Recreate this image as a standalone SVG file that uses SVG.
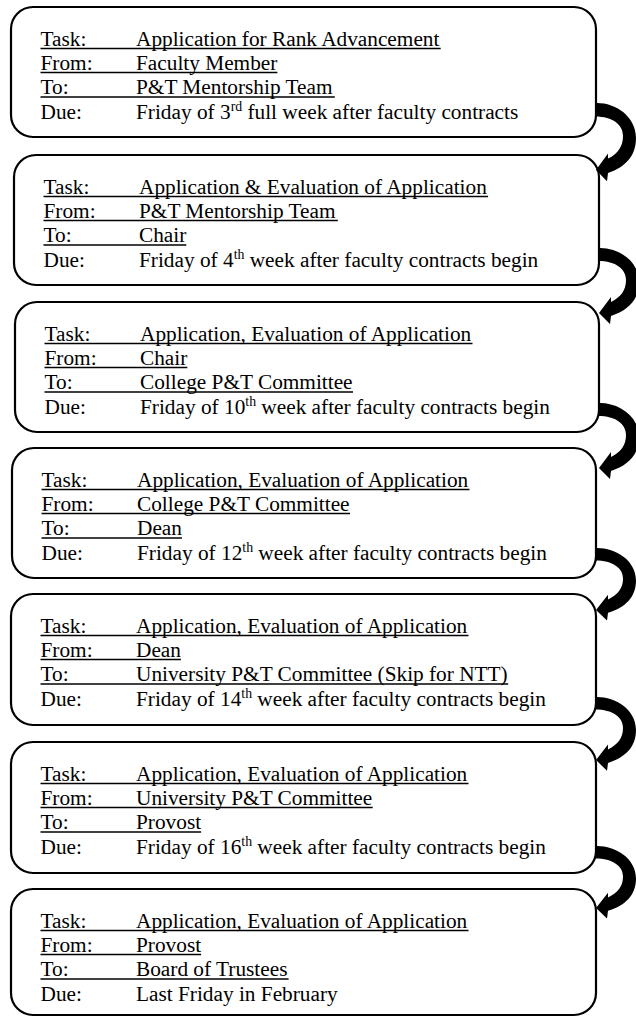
<svg xmlns="http://www.w3.org/2000/svg" xmlns:xlink="http://www.w3.org/1999/xlink" width="636" height="1018" viewBox="0 0 636 1018">
<style>
.box{fill:#fff;stroke:#000;stroke-width:2.2}
.t{font-family:"Liberation Serif","Times New Roman",serif;font-size:21.3px;fill:#000}
.sup{font-size:13.8px}
.u{stroke:#000;stroke-width:1.3}
.arrow{fill:#000;stroke:none}
</style>
<defs>
<path id="arr" d="M -1,0 C 18,-1 40,12 40,34 C 40,51 30,62 12,68 L 11,76 L 0,65 L 12,49 L 12,54 C 22,49 27,42 27,32 C 27,21 17,13 -1,13 Z"/>
</defs>
<rect width="636" height="1018" fill="#fff"/>

<g id="node1">
<rect class="box" x="11" y="7" width="585" height="130" rx="22"/>
<text class="t" x="40.5" y="45.5">Task:</text><text class="t" x="136" y="45.5">Application for Rank Advancement</text>
<line class="u" x1="40.5" y1="48.5" x2="440.7" y2="48.5"/>
<text class="t" x="40.5" y="69.5">From:</text><text class="t" x="136" y="69.5">Faculty Member</text>
<line class="u" x1="40.5" y1="72.5" x2="277.4" y2="72.5"/>
<text class="t" x="40.5" y="94">To:</text><text class="t" x="136" y="94">P&amp;T Mentorship Team</text>
<line class="u" x1="40.5" y1="97" x2="334.8" y2="97"/>
<text class="t" x="40.5" y="118.5">Due:</text><text class="t" x="136" y="118.5">Friday of 3<tspan class="sup" dy="-7.5">rd</tspan><tspan dy="7.5"> full week after faculty contracts</tspan></text>
</g>

<g id="node2">
<rect class="box" x="14" y="155" width="585" height="130" rx="22"/>
<text class="t" x="43.5" y="193.5">Task:</text><text class="t" x="139" y="193.5">Application &amp; Evaluation of Application</text>
<line class="u" x1="43.5" y1="196.5" x2="488.1" y2="196.5"/>
<text class="t" x="43.5" y="217.5">From:</text><text class="t" x="139" y="217.5">P&amp;T Mentorship Team</text>
<line class="u" x1="43.5" y1="220.5" x2="337.8" y2="220.5"/>
<text class="t" x="43.5" y="242">To:</text><text class="t" x="139" y="242">Chair</text>
<line class="u" x1="43.5" y1="245" x2="186.3" y2="245"/>
<text class="t" x="43.5" y="266.5">Due:</text><text class="t" x="139" y="266.5">Friday of 4<tspan class="sup" dy="-7.5">th</tspan><tspan dy="7.5"> week after faculty contracts begin</tspan></text>
</g>

<g id="node3">
<rect class="box" x="15" y="302" width="584" height="130" rx="22"/>
<text class="t" x="44.5" y="340.5">Task:</text><text class="t" x="140" y="340.5">Application, Evaluation of Application</text>
<line class="u" x1="44.5" y1="343.5" x2="472.5" y2="343.5"/>
<text class="t" x="44.5" y="364.5">From:</text><text class="t" x="140" y="364.5">Chair</text>
<line class="u" x1="44.5" y1="367.5" x2="187.3" y2="367.5"/>
<text class="t" x="44.5" y="389">To:</text><text class="t" x="140" y="389">College P&amp;T Committee</text>
<line class="u" x1="44.5" y1="392" x2="353" y2="392"/>
<text class="t" x="44.5" y="413.5">Due:</text><text class="t" x="140" y="413.5">Friday of 10<tspan class="sup" dy="-7.5">th</tspan><tspan dy="7.5"> week after faculty contracts begin</tspan></text>
</g>

<g id="node4">
<rect class="box" x="12" y="448" width="584" height="130" rx="22"/>
<text class="t" x="41.5" y="486.5">Task:</text><text class="t" x="137" y="486.5">Application, Evaluation of Application</text>
<line class="u" x1="41.5" y1="489.5" x2="469.5" y2="489.5"/>
<text class="t" x="41.5" y="510.5">From:</text><text class="t" x="137" y="510.5">College P&amp;T Committee</text>
<line class="u" x1="41.5" y1="513.5" x2="350" y2="513.5"/>
<text class="t" x="41.5" y="535">To:</text><text class="t" x="137" y="535">Dean</text>
<line class="u" x1="41.5" y1="538" x2="181.9" y2="538"/>
<text class="t" x="41.5" y="559.5">Due:</text><text class="t" x="137" y="559.5">Friday of 12<tspan class="sup" dy="-7.5">th</tspan><tspan dy="7.5"> week after faculty contracts begin</tspan></text>
</g>

<g id="node5">
<rect class="box" x="11" y="594" width="585" height="131" rx="22"/>
<text class="t" x="40.5" y="632.5">Task:</text><text class="t" x="136" y="632.5">Application, Evaluation of Application</text>
<line class="u" x1="40.5" y1="635.5" x2="468.5" y2="635.5"/>
<text class="t" x="40.5" y="656.5">From:</text><text class="t" x="136" y="656.5">Dean</text>
<line class="u" x1="40.5" y1="659.5" x2="180.9" y2="659.5"/>
<text class="t" x="40.5" y="681">To:</text><text class="t" x="136" y="681">University P&amp;T Committee (Skip for NTT)</text>
<line class="u" x1="40.5" y1="684" x2="508.2" y2="684"/>
<text class="t" x="40.5" y="705.5">Due:</text><text class="t" x="136" y="705.5">Friday of 14<tspan class="sup" dy="-7.5">th</tspan><tspan dy="7.5"> week after faculty contracts begin</tspan></text>
</g>

<g id="node6">
<rect class="box" x="11" y="742" width="585" height="131" rx="22"/>
<text class="t" x="40.5" y="780.5">Task:</text><text class="t" x="136" y="780.5">Application, Evaluation of Application</text>
<line class="u" x1="40.5" y1="783.5" x2="468.5" y2="783.5"/>
<text class="t" x="40.5" y="804.5">From:</text><text class="t" x="136" y="804.5">University P&amp;T Committee</text>
<line class="u" x1="40.5" y1="807.5" x2="372.7" y2="807.5"/>
<text class="t" x="40.5" y="829">To:</text><text class="t" x="136" y="829">Provost</text>
<line class="u" x1="40.5" y1="832" x2="201.1" y2="832"/>
<text class="t" x="40.5" y="853.5">Due:</text><text class="t" x="136" y="853.5">Friday of 16<tspan class="sup" dy="-7.5">th</tspan><tspan dy="7.5"> week after faculty contracts begin</tspan></text>
</g>

<g id="node7">
<rect class="box" x="11" y="889" width="585" height="126" rx="22"/>
<text class="t" x="40.5" y="927.5">Task:</text><text class="t" x="136" y="927.5">Application, Evaluation of Application</text>
<line class="u" x1="40.5" y1="930.5" x2="468.5" y2="930.5"/>
<text class="t" x="40.5" y="951.5">From:</text><text class="t" x="136" y="951.5">Provost</text>
<line class="u" x1="40.5" y1="954.5" x2="201.1" y2="954.5"/>
<text class="t" x="40.5" y="976">To:</text><text class="t" x="136" y="976">Board of Trustees</text>
<line class="u" x1="40.5" y1="979" x2="288.6" y2="979"/>
<text class="t" x="40.5" y="1000.5">Due:</text><text class="t" x="136" y="1000.5">Last Friday in February</text>
</g>

<g id="connectors" class="arrow">
<use href="#arr" xlink:href="#arr" transform="translate(596,103) scale(1,1.03)"/>
<use href="#arr" xlink:href="#arr" transform="translate(599,248)"/>
<use href="#arr" xlink:href="#arr" transform="translate(599,403)"/>
<use href="#arr" xlink:href="#arr" transform="translate(596,548) scale(1,0.954)"/>
<use href="#arr" xlink:href="#arr" transform="translate(596,697) scale(1,0.97)"/>
<use href="#arr" xlink:href="#arr" transform="translate(596,846) scale(1,0.954)"/>
</g>
</svg>
